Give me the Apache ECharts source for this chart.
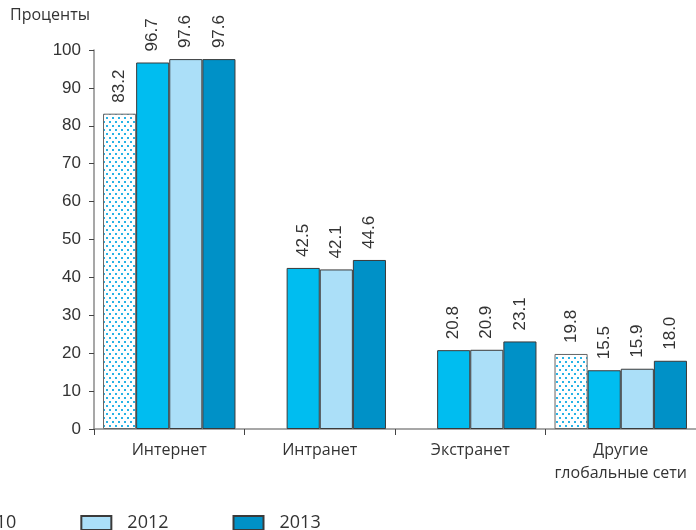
<!DOCTYPE html>
<html><head><meta charset="utf-8">
<script src="https://cdn.jsdelivr.net/npm/echarts@6/dist/echarts.min.js"></script>
<style>html,body{margin:0;padding:0;background:#fff}#c{width:696px;height:530px}</style>
</head><body><div id="c"></div>
<script>
const categories = ['Интернет', 'Интранет', 'Экстранет', 'Другие\nглобальные сети'];
const y2010 = [83.2, null, null, 19.8];
const y2011 = [96.7, 42.5, 20.8, 15.5];
const y2012 = [97.6, 42.1, 20.9, 15.9];
const y2013 = [97.6, 44.6, 23.1, 18.0];
const legendNames = ['2011', '2010', '2012', '2013'];

const cv = document.createElement('canvas');
cv.width = 6; cv.height = 8;
const cx = cv.getContext('2d');
cx.fillStyle = '#fff'; cx.fillRect(0, 0, 6, 8);
cx.fillStyle = '#27b3e6';
cx.fillRect(1, 1, 2, 2); cx.fillRect(4, 5, 2, 2);

const numFont = '"Liberation Sans Narrow", "Arial Narrow", "Liberation Sans", sans-serif';
const txtFont = '"Open Sans", sans-serif';

function mk(name, data, color, bc) {
  return {
    name, type: 'bar', data, barGap: 0, barCategoryGap: '12%',
    itemStyle: { color, borderColor: bc || '#3a3a3a', borderWidth: 1 },
    label: {
      show: true, position: 'top', rotate: 90, align: 'left', verticalAlign: 'middle',
      distance: 11, color: '#333', fontFamily: numFont, fontSize: 17,
      formatter: p => p.value == null ? '' : Number(p.value).toFixed(1)
    }
  };
}

const legendData = legendNames.map(n => n === '2010'
  ? { name: n, textStyle: { padding: [0, -4, 0, 11] } }
  : { name: n });

const chart = echarts.init(document.getElementById('c'), null, { renderer: 'canvas' });
chart.setOption({
  animation: false,
  textStyle: { fontFamily: txtFont },
  grid: { left: 94, width: 606, top: 50, bottom: 101, containLabel: false },
  graphic: [{ type: 'text', left: 10, top: 7, style: { text: 'Проценты', fontFamily: txtFont, fontSize: 16, fill: '#333' } }],
  legend: {
    data: legendData, left: -229, top: 509, itemWidth: 30, itemHeight: 14, itemGap: 64, icon: 'rect',
    textStyle: { fontFamily: txtFont, fontSize: 18, color: '#333', padding: [0, 0, 0, 11] }
  },
  xAxis: {
    type: 'category', data: categories,
    axisLine: { lineStyle: { color: '#8a8a8a', width: 1.5 } },
    axisTick: { show: true, length: 6, lineStyle: { color: '#444' } },
    axisLabel: { interval: 0, fontFamily: txtFont, fontSize: 16, color: '#333', margin: 10, lineHeight: 23 }
  },
  yAxis: {
    type: 'value', min: 0, max: 100, interval: 10,
    splitLine: { show: false },
    axisLine: { show: true, lineStyle: { color: '#8a8a8a', width: 1.5 } },
    axisTick: { show: true, length: 5, lineStyle: { color: '#444' } },
    axisLabel: { fontFamily: numFont, fontSize: 17, color: '#333', margin: 13 }
  },
  series: [
    mk('2010', y2010, { image: cv, repeat: 'repeat' }, '#666'),
    mk('2011', y2011, '#00bdf0'),
    mk('2012', y2012, '#abdff8'),
    mk('2013', y2013, '#0091c7')
  ]
});
</script></body></html>
